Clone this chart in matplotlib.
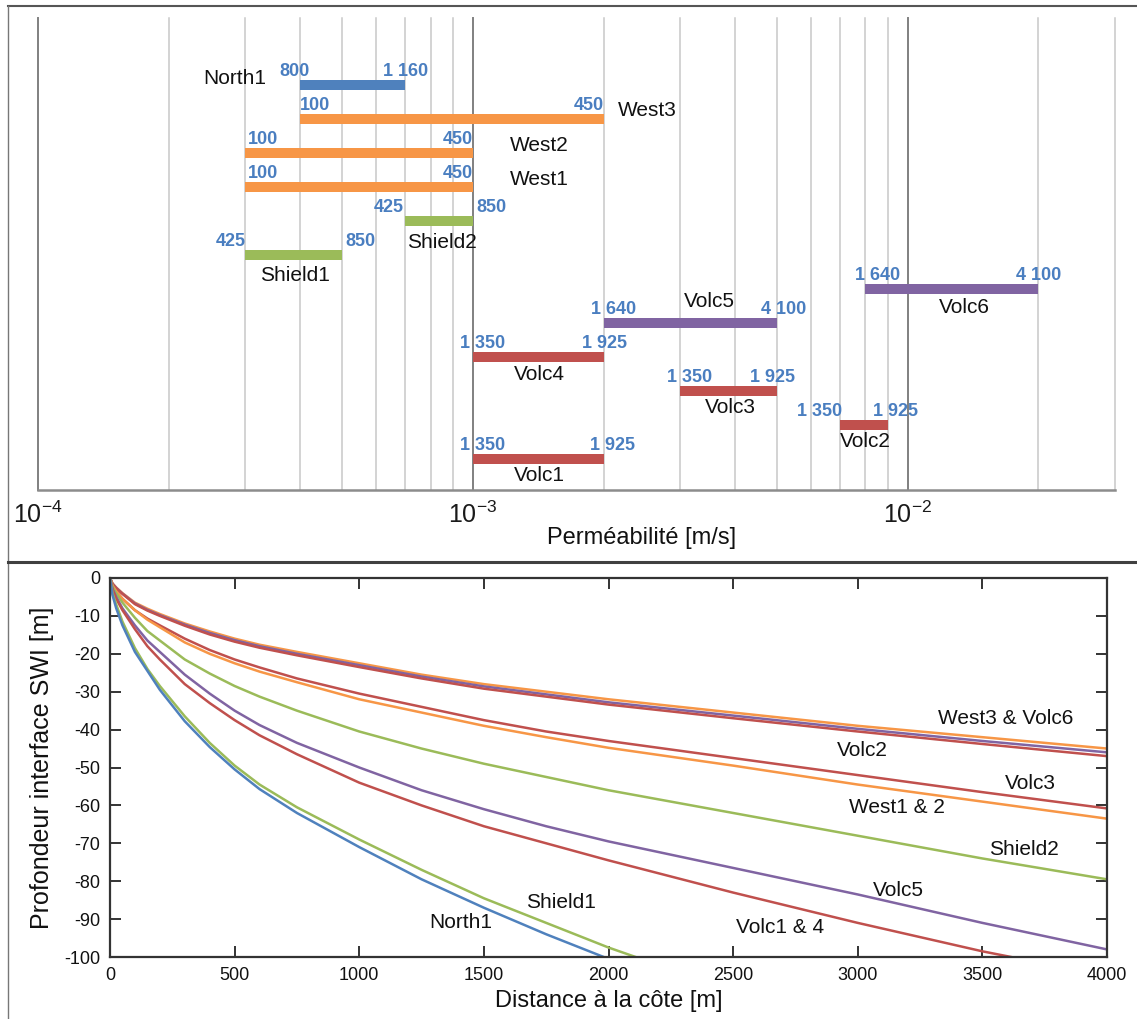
import matplotlib
matplotlib.use('Agg')
import matplotlib.pyplot as plt
from matplotlib.lines import Line2D
from matplotlib.ticker import NullLocator
import numpy as np

plt.rcParams['font.family'] = ['Liberation Sans', 'DejaVu Sans']
plt.rcParams['mathtext.fontset'] = 'custom'
plt.rcParams['mathtext.rm'] = 'Liberation Sans'
plt.rcParams['axes.unicode_minus'] = False

# ---- top panel: permeability ranges [m/s] and recharge values
sites = ['North1', 'West3', 'West2', 'West1', 'Shield2', 'Shield1',
         'Volc6', 'Volc5', 'Volc4', 'Volc3', 'Volc2', 'Volc1']
k_min = [4e-4, 4e-4, 3e-4, 3e-4, 7e-4, 3e-4, 8e-3, 2e-3, 1e-3, 3e-3, 7e-3, 1e-3]
k_max = [7e-4, 2e-3, 1e-3, 1e-3, 1e-3, 5e-4, 2e-2, 5e-3, 2e-3, 5e-3, 9e-3, 2e-3]
val_low = [800, 100, 100, 100, 425, 425, 1640, 1640, 1350, 1350, 1350, 1350]
val_high = [1160, 450, 450, 450, 850, 850, 4100, 4100, 1925, 1925, 1925, 1925]

# ---- bottom panel: interface depth [m] vs distance to coast [m]
dist_m = [0, 10, 25, 50, 100, 150, 200, 300, 400, 500, 600, 750,
          1000, 1250, 1500, 1750, 2000, 2500, 3000, 3500, 4000]
depth_north1 = [0, 4.5, 8, 12.5, 19.5, 24.5, 29.5, 37.8, 44.6, 50.5, 55.7, 62,
                71, 79.5, 87, 94, 100.5]
depth_shield1 = [0, 4, 7, 11.5, 18.5, 24, 28.5, 36.5, 43.5, 49.5, 54.5, 60.5,
                 69, 77, 84.5, 91, 97.5, 109]
depth_volc14 = [0, 3, 5.5, 8.5, 13.5, 18, 21.5, 28, 33, 37.5, 41.5, 46.5,
                54, 60, 65.5, 70, 74.5, 83, 91, 98.5, 105]
depth_volc5 = [0, 2.8, 5, 8, 12.5, 16.5, 19.5, 25.5, 30.5, 35, 38.8, 43.5,
               50, 56, 61, 65.5, 69.5, 76.5, 83.5, 91, 98]
depth_shield2 = [0, 2.3, 4, 6.5, 10.5, 14, 16.5, 21.5, 25.2, 28.5, 31.3, 35,
                 40.5, 45, 49, 52.5, 56, 62, 68, 74, 79.5]
depth_west12 = [0, 2, 3.5, 5.5, 8.5, 11, 13, 17, 20, 22.5, 24.7, 27.5,
                32, 35.5, 39, 42, 44.8, 49.5, 54.5, 59, 63.5]
depth_volc3 = [0, 2, 3.5, 5.5, 8.5, 10.7, 12.5, 16, 19, 21.5, 23.6, 26.5,
               30.5, 34, 37.5, 40.5, 43, 47.5, 52, 56.5, 60.8]
depth_volc2 = [0, 1.6, 2.7, 4.2, 6.9, 8.6, 10, 12.6, 14.9, 16.8, 18.4, 20.4,
               23.5, 26.5, 29.2, 31.3, 33.4, 37, 40.5, 43.8, 47]
depth_volc6 = [0, 1.5, 2.6, 4.1, 6.7, 8.4, 9.8, 12.3, 14.5, 16.4, 18, 20,
               23, 26, 28.6, 30.7, 32.8, 36.3, 39.8, 43, 46]
depth_west3 = [0, 1.4, 2.5, 4, 6.5, 8.1, 9.5, 12, 14.1, 16, 17.6, 19.5,
               22.5, 25.5, 28, 30, 32, 35.5, 39, 42, 45]

blue = '#4f81bd'
orange = '#f79646'
green = '#9bbb59'
purple = '#8064a2'
red = '#c0504d'
label_blue = '#4a7ec0'
bar_colors = [blue, orange, orange, orange, green, green,
              purple, purple, red, red, red, red]

# label layout (alignment, x offset in px) for low / high value, name position
low_fmt = [('center', -5), ('left', 0), ('left', 2), ('left', 2), ('right', -2), ('right', 0),
           ('center', 12), ('center', 10), ('center', 10), ('center', 9), ('right', 2), ('center', 10)]
high_fmt = [('center', 0), ('right', 0), ('right', 0), ('right', 0), ('left', 4), ('left', 3),
            ('center', 0), ('center', 7), ('center', 1), ('center', -4), ('center', 8), ('center', 9)]
name_pos = [(2.83e-4, -0.2), (2.52e-3, -0.24), (1.42e-3, -0.21), (1.42e-3, -0.21),
            (8.49e-4, 0.62), (3.91e-4, 0.59), (1.35e-2, 0.53), (3.50e-3, -0.62),
            (1.42e-3, 0.5), (3.91e-3, 0.47), (8.0e-3, 0.47), (1.42e-3, 0.47)]

W, H = 1137, 1019
fig = plt.figure(figsize=(W / 100, H / 100), dpi=100)

# ---------------- top panel
ax1 = fig.add_axes([38 / W, 1 - 490 / H, 1077 / W, 472 / H])
ax1.set_xscale('log')
ax1.set_xlim(1e-4, 3e-2)
ax1.set_ylim(11.91, -1.97)
for s in ['top', 'left', 'right']:
    ax1.spines[s].set_visible(False)
ax1.spines['bottom'].set_color('#8c8c8c')
ax1.spines['bottom'].set_linewidth(1.8)
ax1.set_yticks([])

grid_vals = [m * 10.0 ** e for e in (-4, -3, -2) for m in range(1, 10) if m * 10.0 ** e <= 3.01e-2]
for v in grid_vals:
    major = abs(np.log10(v) - round(np.log10(v))) < 1e-6
    ax1.axvline(v, color='#808080' if major else '#c8c8c8', lw=1.4 if major else 1.1,
                zorder=0, clip_on=False)

ax1.set_xticks([1e-4, 1e-3, 1e-2])
ax1.set_xticklabels([r'$\mathregular{10^{-4}}$', r'$\mathregular{10^{-3}}$', r'$\mathregular{10^{-2}}$'])
ax1.xaxis.set_minor_locator(NullLocator())
ax1.tick_params(axis='x', length=0, pad=8, labelsize=18, colors='#1a1a1a')

rows = np.arange(len(sites))
ax1.barh(rows, np.array(k_max) - np.array(k_min), left=k_min, height=0.3,
         color=bar_colors, zorder=2)


def fmt(v):
    return f'{v:,}'.replace(',', ' ')


for i in range(len(sites)):
    for val, k, (ha, dx) in ((val_low[i], k_min[i], low_fmt[i]), (val_high[i], k_max[i], high_fmt[i])):
        ax1.annotate(fmt(val), (k, rows[i]), xytext=(dx * 0.72, 10), textcoords='offset points',
                     ha=ha, va='center', fontsize=13, fontweight='bold', color=label_blue)
    nx, dy = name_pos[i]
    ax1.text(nx, rows[i] + dy, sites[i], ha='center', va='center', fontsize=15, color='#111111')

fig.text(642 / W, 1 - 538 / H, 'Perméabilité [m/s]', ha='center', va='center',
         fontsize=17, color='#111111')

# frame lines
fig.add_artist(Line2D([8 / W, 1], [1 - 6 / H] * 2, color='#555555', lw=1.5, transform=fig.transFigure))
fig.add_artist(Line2D([8 / W] * 2, [0, 1 - 6 / H], color='#777777', lw=1.0, transform=fig.transFigure))
fig.add_artist(Line2D([8 / W, 1], [1 - 562 / H] * 2, color='#404040', lw=2.2, transform=fig.transFigure))

# ---------------- bottom panel
ax2 = fig.add_axes([110 / W, 1 - 957 / H, 997 / W, 379 / H])
curves = [
    (depth_west3, orange), (depth_volc6, purple), (depth_volc2, red),
    (depth_volc3, red), (depth_west12, orange), (depth_shield2, green),
    (depth_volc5, purple), (depth_volc14, red), (depth_shield1, green),
    (depth_north1, blue),
]
for depth, c in curves:
    ax2.plot(dist_m[:len(depth)], -np.array(depth), color=c, lw=1.8)

ax2.set_xlim(0, 4000)
ax2.set_ylim(-100, 0)
ax2.set_xticks(range(0, 4001, 500))
ax2.set_yticks(range(-100, 1, 10))
for s in ax2.spines.values():
    s.set_color('#333333')
    s.set_linewidth(1.6)
ax2.tick_params(direction='in', length=8, width=1.4, top=True, right=True,
                labelsize=13, pad=7, colors='#333333', labelcolor='#111111')
ax2.set_xlabel('Distance à la côte [m]', fontsize=17, color='#111111')
ax2.set_ylabel('Profondeur interface SWI [m]', fontsize=18, color='#111111')
ax2.xaxis.set_label_coords(0.5, -0.087)
ax2.yaxis.set_label_coords(-0.056, 0.5)

curve_labels = [
    ('West3 & Volc6', 3595, -37.0), ('Volc2', 3017, -45.5), ('Volc3', 3691, -54.2),
    ('West1 & 2', 3157, -60.6), ('Shield2', 3667, -71.7), ('Volc5', 3162, -82.5),
    ('Volc1 & 4', 2688, -92.3), ('Shield1', 1809, -85.7), ('North1', 1408, -91.0),
]
for txt, x, y in curve_labels:
    ax2.text(x, y, txt, ha='center', va='center', fontsize=15, color='#111111')

fig.savefig('out.png', dpi=100)
